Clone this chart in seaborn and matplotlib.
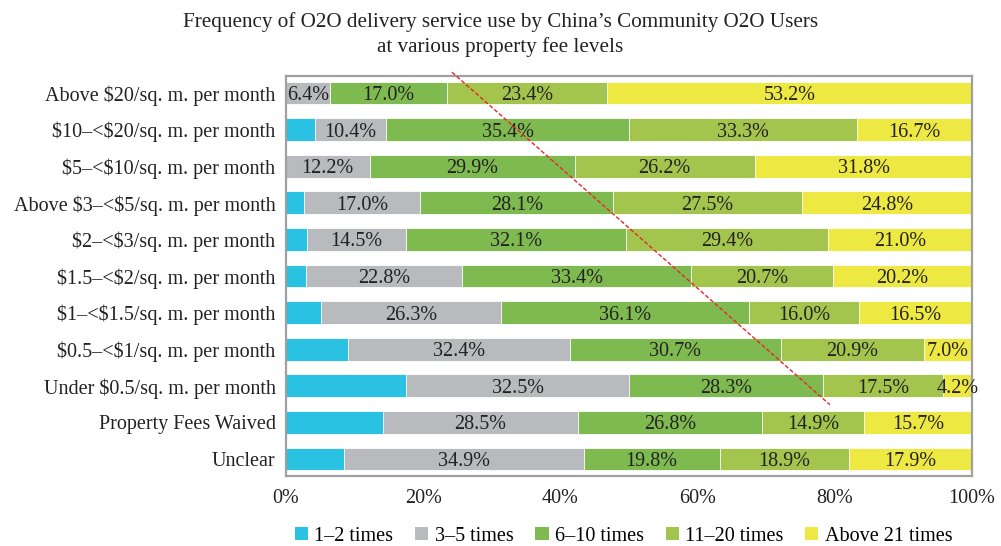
import matplotlib
matplotlib.use("Agg")
import numpy as np
import pandas as pd
import seaborn as sns
import matplotlib.pyplot as plt
from matplotlib.patches import Patch

categories = [
    "Above $20/sq. m. per month",
    "$10\u2013<$20/sq. m. per month",
    "$5\u2013<$10/sq. m. per month",
    "Above $3\u2013<$5/sq. m. per month",
    "$2\u2013<$3/sq. m. per month",
    "$1.5\u2013<$2/sq. m. per month",
    "$1\u2013<$1.5/sq. m. per month",
    "$0.5\u2013<$1/sq. m. per month",
    "Under $0.5/sq. m. per month",
    "Property Fees Waived",
    "Unclear",
]
series_names = ["1\u20132 times", "3\u20135 times", "6\u201310 times", "11\u201320 times", "Above 21 times"]
times_1_2 = [0.0, 4.2, 0.0, 2.6, 3.0, 2.9, 5.1, 9.0, 17.5, 14.1, 8.5]
times_3_5 = [6.4, 10.4, 12.2, 17.0, 14.5, 22.8, 26.3, 32.4, 32.5, 28.5, 34.9]
times_6_10 = [17.0, 35.4, 29.9, 28.1, 32.1, 33.4, 36.1, 30.7, 28.3, 26.8, 19.8]
times_11_20 = [23.4, 33.3, 26.2, 27.5, 29.4, 20.7, 16.0, 20.9, 17.5, 14.9, 18.9]
times_21_up = [53.2, 16.7, 31.8, 24.8, 21.0, 20.2, 16.5, 7.0, 4.2, 15.7, 17.9]
colors = ["#2AC1E3", "#B9BABE", "#7FBA51", "#A3C54E", "#EEE843"]

title = "Frequency of O2O delivery service use by China\u2019s Community O2O Users\nat various property fee levels"

plt.rcParams["font.family"] = ["Liberation Serif", "DejaVu Serif"]
plt.rcParams["text.parse_math"] = False  # keep the $ signs literal

series = [times_1_2, times_3_5, times_6_10, times_11_20, times_21_up]
df = pd.DataFrame({name: vals for name, vals in zip(series_names, series)}, index=categories)
cum = df.cumsum(axis=1)

fig = plt.figure(figsize=(10.01, 5.46), dpi=100)
ax = fig.add_axes([0.2857, 0.128, 0.6853, 0.733])

# stacked bars: draw cumulative totals from the widest down
for name, color in reversed(list(zip(series_names, colors))):
    sns.barplot(x=cum[name].values, y=categories, orient="h", color=color,
                width=0.62, edgecolor="white", linewidth=0.6, saturation=1,
                ax=ax)

# segment labels (skip the thin blue segment)
for i, cat in enumerate(categories):
    left = 0.0
    for j, name in enumerate(series_names):
        v = df.loc[cat, name]
        if j > 0 and v > 0:
            ax.text(left + v / 2, i, f"{v:.1f}%", ha="center",
                    va="center_baseline", fontsize=14.5, color="#222222")
        left += v

ax.set_xlim(0, 100)
ax.set_ylim(10.47, -0.47)
ax.set_xticks(np.arange(0, 101, 20))
ax.set_xticklabels([f"{t}%" for t in range(0, 101, 20)])
ax.tick_params(axis="both", length=0, labelsize=14.5, colors="#222222")
ax.tick_params(axis="x", pad=9)
ax.tick_params(axis="y", pad=7.5)
ax.set_xlabel("")
ax.set_ylabel("")
for s in ax.spines.values():
    s.set_color("#A0A0A0")
    s.set_linewidth(1.6)

# red dashed annotation line
ax.plot([24.2, 79.3], [-0.57, 8.52], color="#E8262B", ls=(0, (3, 1.5)),
        lw=1.0, clip_on=False, zorder=5)

fig.text(0.5, 0.978, title, ha="center", va="top", fontsize=15.2,
         color="#222222", linespacing=1.36)

handles = [Patch(facecolor=c, edgecolor="none") for c in colors]
fig.legend(handles, series_names, loc="center", bbox_to_anchor=(0.623, 0.018),
           ncol=5, frameon=False, fontsize=14.5, handlelength=0.65,
           handleheight=0.65, handletextpad=0.3, columnspacing=1.1)

fig.savefig("out.png", dpi=100)
